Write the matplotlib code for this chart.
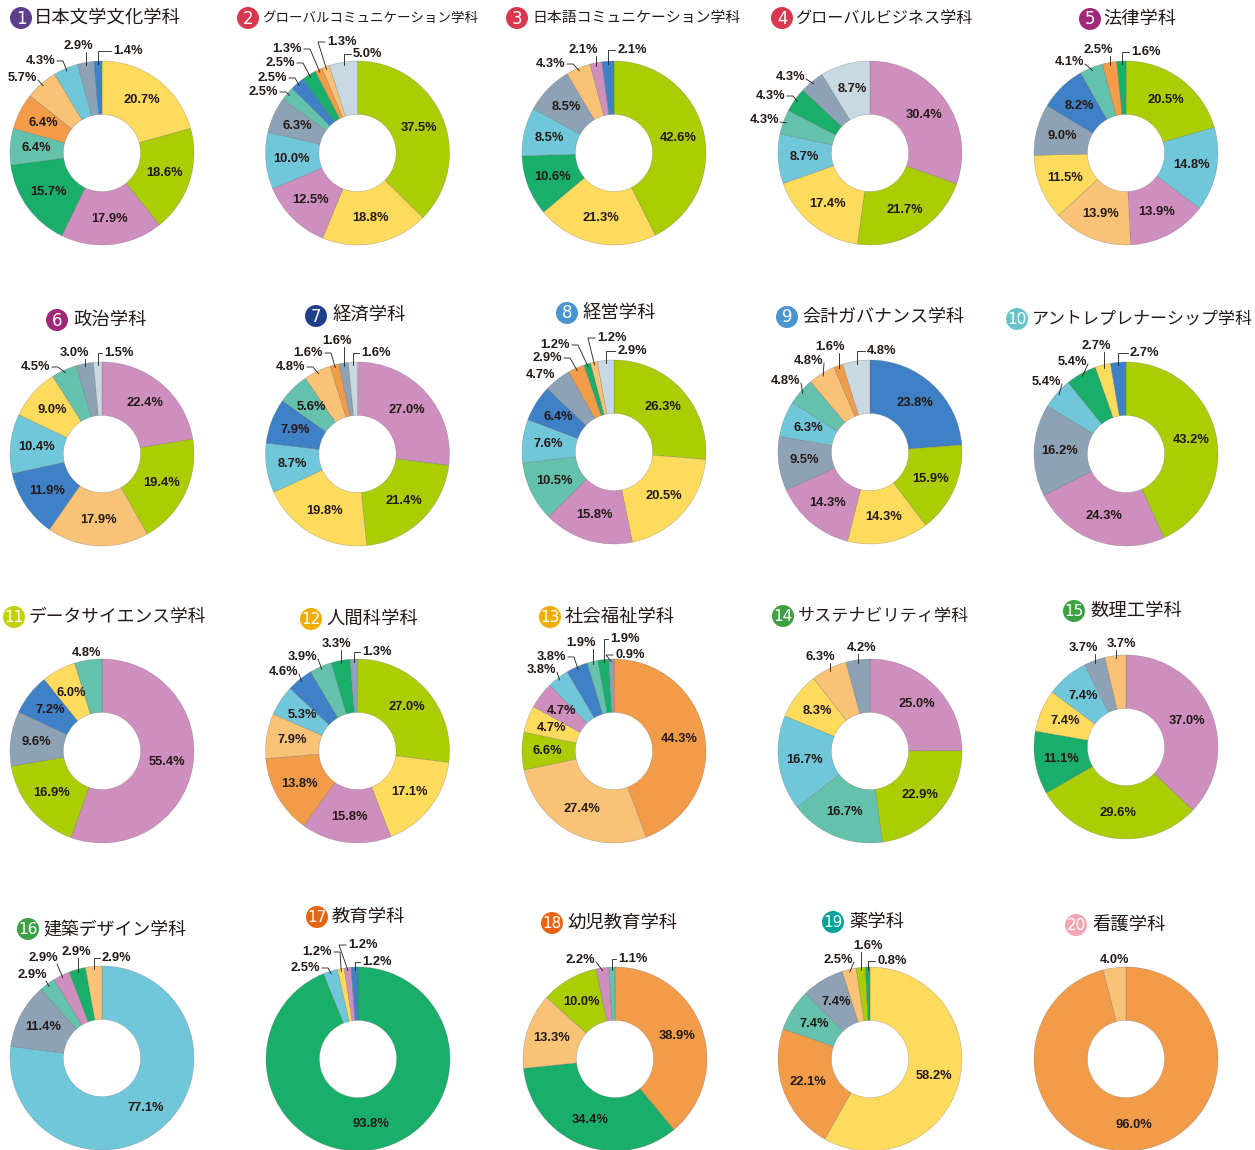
import matplotlib
matplotlib.use('Agg')
import matplotlib.pyplot as plt
from matplotlib import font_manager
from matplotlib.patches import Circle
import numpy as np

# ---------------- data ----------------
titles = ['日本文学文化学科', 'グローバルコミュニケーション学科', '日本語コミュニケーション学科',
          'グローバルビジネス学科', '法律学科', '政治学科', '経済学科', '経営学科',
          '会計ガバナンス学科', 'アントレプレナーシップ学科', 'データサイエンス学科', '人間科学科',
          '社会福祉学科', 'サステナビリティ学科', '数理工学科', '建築デザイン学科', '教育学科',
          '幼児教育学科', '薬学科', '看護学科']

# category keys (one colour per category)
cat01 = ['YE', 'LI', 'PK', 'GR', 'TE', 'OR', 'LO', 'LB', 'GY', 'BL']
val01 = [20.7, 18.6, 17.9, 15.7, 6.4, 6.4, 5.7, 4.3, 2.9, 1.4]
cat02 = ['LI', 'YE', 'PK', 'LB', 'GY', 'TE', 'BL', 'GR', 'OR', 'LO', 'LG']
val02 = [37.5, 18.8, 12.5, 10.0, 6.3, 2.5, 2.5, 2.5, 1.3, 1.3, 5.0]
cat03 = ['LI', 'YE', 'GR', 'LB', 'GY', 'LO', 'PK', 'BL']
val03 = [42.6, 21.3, 10.6, 8.5, 8.5, 4.3, 2.1, 2.1]
cat04 = ['PK', 'LI', 'YE', 'LB', 'TE', 'GR', 'GY', 'LG']
val04 = [30.4, 21.7, 17.4, 8.7, 4.3, 4.3, 4.3, 8.7]
cat05 = ['LI', 'LB', 'PK', 'LO', 'YE', 'GY', 'BL', 'TE', 'OR', 'GR']
val05 = [20.5, 14.8, 13.9, 13.9, 11.5, 9.0, 8.2, 4.1, 2.5, 1.6]
cat06 = ['PK', 'LI', 'LO', 'BL', 'LB', 'YE', 'TE', 'GY', 'LG']
val06 = [22.4, 19.4, 17.9, 11.9, 10.4, 9.0, 4.5, 3.0, 1.5]
cat07 = ['PK', 'LI', 'YE', 'LB', 'BL', 'TE', 'LO', 'OR', 'GY', 'LG']
val07 = [27.0, 21.4, 19.8, 8.7, 7.9, 5.6, 4.8, 1.6, 1.6, 1.6]
cat08 = ['LI', 'YE', 'PK', 'TE', 'LB', 'BL', 'GY', 'OR', 'GR', 'LO', 'LG']
val08 = [26.3, 20.5, 15.8, 10.5, 7.6, 6.4, 4.7, 2.9, 1.2, 1.2, 2.9]
cat09 = ['BL', 'LI', 'YE', 'PK', 'GY', 'LB', 'TE', 'LO', 'OR', 'LG']
val09 = [23.8, 15.9, 14.3, 14.3, 9.5, 6.3, 4.8, 4.8, 1.6, 4.8]
cat10 = ['LI', 'PK', 'GY', 'LB', 'GR', 'YE', 'BL']
val10 = [43.2, 24.3, 16.2, 5.4, 5.4, 2.7, 2.7]
cat11 = ['PK', 'LI', 'GY', 'BL', 'YE', 'TE']
val11 = [55.4, 16.9, 9.6, 7.2, 6.0, 4.8]
cat12 = ['LI', 'YE', 'PK', 'OR', 'LO', 'LB', 'BL', 'TE', 'GR', 'GY']
val12 = [27.0, 17.1, 15.8, 13.8, 7.9, 5.3, 4.6, 3.9, 3.3, 1.3]
cat13 = ['OR', 'LO', 'LI', 'YE', 'PK', 'LB', 'BL', 'TE', 'GR', 'GY']
val13 = [44.3, 27.4, 6.6, 4.7, 4.7, 3.8, 3.8, 1.9, 1.9, 0.9]
cat14 = ['PK', 'LI', 'TE', 'LB', 'YE', 'LO', 'GY']
val14 = [25.0, 22.9, 16.7, 16.7, 8.3, 6.3, 4.2]
cat15 = ['PK', 'LI', 'GR', 'YE', 'LB', 'GY', 'LO']
val15 = [37.0, 29.6, 11.1, 7.4, 7.4, 3.7, 3.7]
cat16 = ['LB', 'GY', 'TE', 'PK', 'GR', 'LO']
val16 = [77.1, 11.4, 2.9, 2.9, 2.9, 2.9]
cat17 = ['GR', 'LB', 'YE', 'PK', 'BL']
val17 = [93.8, 2.5, 1.2, 1.2, 1.2]
cat18 = ['OR', 'GR', 'LO', 'LI', 'PK', 'TE']
val18 = [38.9, 34.4, 13.3, 10.0, 2.2, 1.1]
cat19 = ['YE', 'OR', 'TE', 'GY', 'LO', 'LI', 'GR']
val19 = [58.2, 22.1, 7.4, 7.4, 2.5, 1.6, 0.8]
cat20 = ['OR', 'LO']
val20 = [96.0, 4.0]

values = [val01, val02, val03, val04, val05, val06, val07, val08, val09, val10,
          val11, val12, val13, val14, val15, val16, val17, val18, val19, val20]
cats = [cat01, cat02, cat03, cat04, cat05, cat06, cat07, cat08, cat09, cat10,
        cat11, cat12, cat13, cat14, cat15, cat16, cat17, cat18, cat19, cat20]

# ---------------- styles / layout ----------------
COL = {'LI': '#ABCD03', 'YE': '#FEDB5C', 'PK': '#CE8FBE', 'GR': '#19AE6A',
       'TE': '#64C1AC', 'OR': '#F29B49', 'LO': '#F8C277', 'LB': '#71C7DA',
       'GY': '#8EA2B5', 'BL': '#3E81C6', 'LG': '#C8D9E1'}
badge_colors = ['#5C3F8A', '#D8384F', '#D8384F', '#D8384F', '#A0297A', '#A0297A',
                '#1F3F88', '#4A95CF', '#4A95CF', '#67C5CA', '#C3D000', '#F0AD00',
                '#F0AD00', '#3DA043', '#3DA043', '#3DA043', '#E8650F', '#E8650F',
                '#00A397', '#F2A6B5']
TXT = '#231815'
W, H = 1255, 1150
R_PX = 92
HOLE = 0.42

centers = [(102, 153), (357.5, 153), (614, 153), (870, 153), (1126, 153),
           (102, 454), (357.5, 454), (614, 452), (870, 452), (1126, 454),
           (102, 751), (357.5, 751), (614, 751), (870, 751), (1126, 747),
           (102, 1058), (358, 1059), (615, 1059), (870, 1059), (1126, 1059)]

# badge centre x, y, title text x, title width (px)
title_pos = [(21, 18, 34, 147), (248, 18, 262, 216), (517, 18, 532, 208), (782, 18, 795, 177),
             (1090, 19, 1103, 73), (57, 320, 73, 75), (316, 316, 333, 74), (567, 313, 583, 74),
             (787, 317, 802, 162), (1017, 319, 1032, 221), (14, 617, 28, 177), (311, 619, 326, 92),
             (550, 617, 565, 113), (783, 616, 798, 171), (1074, 611, 1090, 94), (28, 929, 43, 143),
             (317, 917, 332, 74), (552, 923, 567, 112), (833, 922, 849, 57), (1076, 925, 1092, 75)]

# outside labels: wedge index -> (style, x, y)
callouts = [
    {9: ('R', 113, 51), 8: ('U', 78, 46), 7: ('L', 55, 61), 6: ('L', 37, 78)},
    {10: ('R', 353, 54), 9: ('R', 327, 42), 8: ('L', 302, 49), 7: ('L', 295, 63),
     6: ('L', 287, 78), 5: ('L', 278, 92)},
    {7: ('R', 617, 50), 6: ('U', 583, 50), 5: ('L', 565, 64)},
    {6: ('L', 805, 77), 5: ('L', 785, 96), 4: ('L', 779, 120)},
    {9: ('R', 1131, 52), 8: ('U', 1098, 50), 7: ('L', 1084, 62)},
    {8: ('R', 104, 353), 7: ('U', 74, 353), 6: ('L', 50, 367)},
    {9: ('R', 361, 353), 8: ('U', 337, 341), 7: ('L', 323, 353), 6: ('L', 305, 367)},
    {10: ('R', 617, 351), 9: ('R', 597, 338), 8: ('L', 570, 345), 7: ('L', 562, 358),
     6: ('N', 541, 375)},
    {9: ('R', 867, 351), 8: ('U', 830, 347), 7: ('L', 823, 361), 6: ('L', 800, 381)},
    {6: ('R', 1130, 353), 5: ('U', 1096, 346), 4: ('L', 1087, 362), 3: ('L', 1061, 382)},
    {5: ('N', 87, 653)},
    {9: ('R', 362, 652), 8: ('U', 336, 644), 7: ('L', 317, 657), 6: ('L', 298, 672)},
    {9: ('R', 615, 655), 8: ('R', 610, 639), 7: ('U', 581, 643), 6: ('L', 566, 657),
     5: ('L', 556, 670)},
    {6: ('U', 862, 648), 5: ('U', 820, 657)},
    {6: ('U', 1121, 644), 5: ('U', 1083, 648)},
    {5: ('R', 102, 958), 4: ('U', 76, 952), 3: ('U', 43, 958), 2: ('U', 32, 975)},
    {4: ('R', 362, 962), 3: ('R', 348, 945), 2: ('L', 332, 952), 1: ('L', 320, 968)},
    {5: ('R', 618, 959), 4: ('L', 595, 960)},
    {6: ('R', 877, 961), 5: ('U', 868, 946), 4: ('L', 853, 960)},
    {1: ('N', 1115, 960)},
]

avail = {f.name for f in font_manager.fontManager.ttflist}
NUMFONT = 'Liberation Sans Narrow' if 'Liberation Sans Narrow' in avail else 'DejaVu Sans'
LABFONT = 'Liberation Sans' if 'Liberation Sans' in avail else 'DejaVu Sans'
CJK = ['Noto Sans CJK JP', 'DejaVu Sans']

fig = plt.figure(figsize=(W / 100, H / 100), dpi=100)
fig.patch.set_facecolor('white')

S = 100
for i in range(20):
    cx, cy = centers[i]
    ax = fig.add_axes([(cx - S) / W, 1 - (cy + S) / H, 2 * S / W, 2 * S / H])
    ax.pie(values[i], colors=[COL[k] for k in cats[i]], startangle=90, counterclock=False,
           radius=1.0, wedgeprops=dict(width=1 - HOLE, edgecolor=(0.35, 0.35, 0.35, 0.45),
                                       linewidth=0.35))
    ax.set_xlim(-S / R_PX, S / R_PX)
    ax.set_ylim(-S / R_PX, S / R_PX)
    ax.set_aspect('equal')
    ax.axis('off')

ov = fig.add_axes([0, 0, 1, 1])
ov.set_xlim(0, W)
ov.set_ylim(H, 0)
ov.axis('off')
ov.patch.set_alpha(0)


def mid_angle(vals, j):
    tot = float(sum(vals))
    c = sum(vals[:j]) + vals[j] / 2.0
    return np.deg2rad(90 - 360.0 * c / tot)


def at(cx, cy, th, r):
    return cx + r * R_PX * np.cos(th), cy - r * R_PX * np.sin(th)


lab_kw = dict(fontsize=9.3, fontweight='bold', family=LABFONT, color=TXT)
line_kw = dict(color=TXT, lw=0.6, solid_joinstyle='miter', clip_on=False)

for i in range(20):
    cx, cy = centers[i]
    vals = values[i]
    co = callouts[i]
    for j, v in enumerate(vals):
        th = mid_angle(vals, j)
        s = f'{v:.1f}%'
        if j not in co:
            x, y = at(cx, cy, th, 0.72)
            ov.text(x, y, s, ha='center', va='center', **lab_kw)
            continue
        style, lx, ly = co[j]
        px, py = at(cx, cy, th, 0.97)
        if style == 'R':
            ex = px if px <= lx - 6 else lx - 9
            ov.plot([px, ex, lx - 2], [py, ly, ly], **line_kw)
            ov.text(lx, ly, s, ha='left', va='center', **lab_kw)
        elif style == 'L':
            ex = lx + 8
            if px <= ex + 1:
                ov.plot([lx + 1, px], [ly + 2, py], **line_kw)
            else:
                ov.plot([lx + 2, ex, px], [ly, ly, py], **line_kw)
            ov.text(lx, ly, s, ha='right', va='center', **lab_kw)
        elif style == 'U':
            sx = min(max(px, lx - 12), lx + 14)
            ov.plot([sx, px], [ly + 6, py], **line_kw)
            ov.text(lx, ly, s, ha='center', va='center', **lab_kw)
        else:
            ov.text(lx, ly, s, ha='center', va='center', **lab_kw)

# titles with number badges
for i in range(20):
    bx, by, tx, tw = title_pos[i]
    ov.add_patch(Circle((bx, by), 11, facecolor=badge_colors[i], edgecolor='none'))
    num = str(i + 1)
    ov.text(bx, by + 0.5, num, ha='center', va='center', color='white',
            fontsize=12 if len(num) == 1 else 11, family=NUMFONT)
    name = titles[i]
    fs = min(13.2, tw / (len(name) * 100 / 72))
    ov.text(tx, by, name, ha='left', va='center', fontsize=fs, family=CJK, color=TXT)

fig.savefig('out.png', dpi=100, facecolor='white')
